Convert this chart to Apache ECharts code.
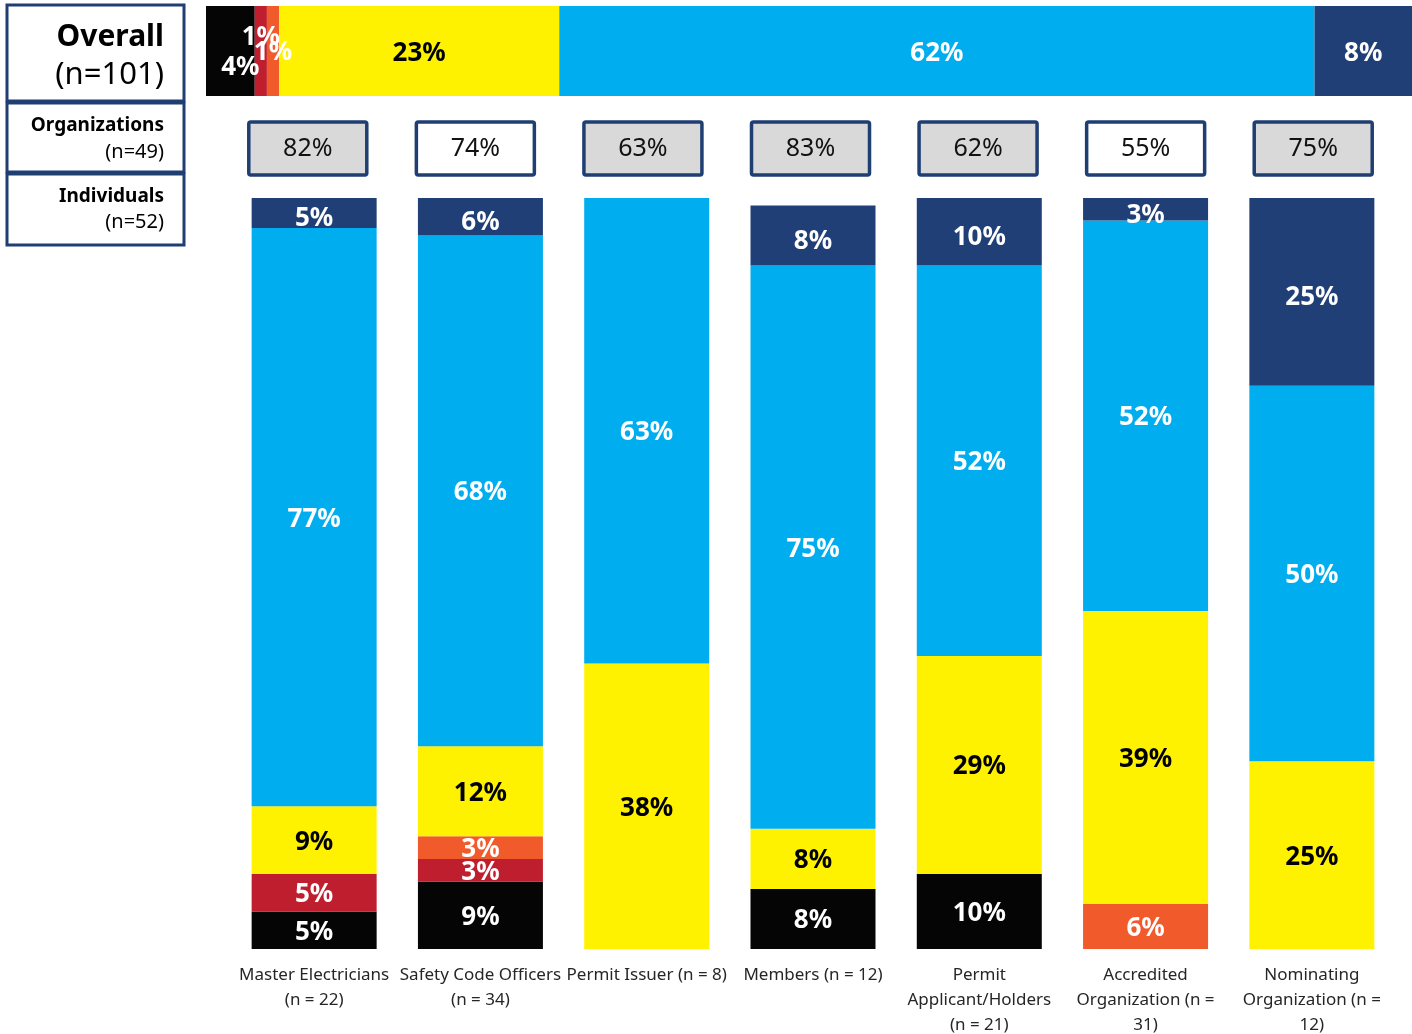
<!DOCTYPE html>
<html><head><meta charset="utf-8">
<script src="https://cdn.jsdelivr.net/npm/echarts@6/dist/echarts.min.js"></script>
<style>html,body{margin:0;padding:0;background:#fff}#c{width:1412px;height:1034px}</style>
</head><body><div id="c"></div>
<script>
// ---- data ----
const segmentNames = ['Level 1', 'Level 2', 'Level 3', 'Level 4', 'Level 5', 'Level 6'];
const categories = [
  'Master Electricians\n(n = 22)',
  'Safety Code Officers\n(n = 34)',
  'Permit Issuer (n = 8)',
  'Members (n = 12)',
  'Permit\nApplicant/Holders\n(n = 21)',
  'Accredited\nOrganization (n =\n31)',
  'Nominating\nOrganization (n =\n12)'
];
const blackVals     = [5, 9, 0, 8, 10, 0, 0];
const redVals       = [5, 3, 0, 0, 0, 0, 0];
const orangeVals    = [0, 3, 0, 0, 0, 6, 0];
const yellowVals    = [9, 12, 38, 8, 29, 39, 25];
const lightBlueVals = [77, 68, 63, 75, 52, 52, 50];
const darkBlueVals  = [5, 6, 0, 8, 10, 3, 25];
const overallVals   = [4, 1, 1, 23, 62, 8];
const boxVals       = [82, 74, 63, 83, 62, 55, 75];
const boxShaded     = [true, false, true, true, true, false, true];

// ---- styles ----
const FONT = '"Noto Sans", "Open Sans", sans-serif';
const colors = ['#050505', '#be1e2d', '#f15a2b', '#fff200', '#00adef', '#213f77'];
const labelColors = ['#fff', '#fff', '#fff', '#000', '#fff', '#fff'];
const overallOffsets = [[10, 17], [0, -13], [0, 2], [0, 3], [0, 3], [0, 3]];
const columnSets = [blackVals, redVals, orangeVals, yellowVals, lightBlueVals, darkBlueVals];

const chart = echarts.init(document.getElementById('c'), null, {renderer: 'canvas'});
const overallSum = overallVals.reduce((a, b) => a + b, 0);

const series = [];
overallVals.forEach((v, i) => {
  series.push({
    name: segmentNames[i], type: 'bar', xAxisIndex: 0, yAxisIndex: 0, stack: 'overall',
    barWidth: '100%', data: [v],
    itemStyle: {color: colors[i]},
    label: {show: true, position: 'inside', formatter: p => p.value + '%', color: labelColors[i],
      fontSize: 26, fontWeight: 'bold', fontFamily: FONT, offset: overallOffsets[i]},
    emphasis: {disabled: true}, silent: true
  });
});
columnSets.forEach((vals, i) => {
  series.push({
    name: segmentNames[i], type: 'bar', xAxisIndex: 2, yAxisIndex: 2, stack: 'cols',
    barWidth: 125, data: vals, clip: true,
    itemStyle: {color: colors[i]},
    label: {show: true, position: 'inside', formatter: p => p.value ? p.value + '%' : '',
      color: labelColors[i], fontSize: 26, fontWeight: 'bold', fontFamily: FONT,
      offset: i === 5 ? [0, 6] : [0, 2]},
    emphasis: {disabled: true}, silent: true
  });
});
series.push({
  type: 'custom', xAxisIndex: 1, yAxisIndex: 1,
  data: boxVals.map((v, i) => [i, 0.5, v, boxShaded[i] ? 1 : 0]),
  renderItem: (params, api) => {
    const c = api.coord([api.value(0), api.value(1)]);
    return {
      type: 'group',
      children: [
        {type: 'rect', shape: {x: c[0] - 59, y: c[1] - 26, width: 118, height: 53, r: 2},
          style: {fill: api.value(3) ? '#d9d9d9' : '#ffffff', stroke: '#1f3f73', lineWidth: 3.5}},
        {type: 'text', style: {text: api.value(2) + '%', x: c[0], y: c[1] + 1, textAlign: 'center',
          textVerticalAlign: 'middle', font: '25px ' + FONT, fill: '#111'}}
      ]
    };
  },
  silent: true
});

const txt = (text, y, font) => ({type: 'text', style: {text, x: 164, y, textAlign: 'right', textVerticalAlign: 'middle', font, fill: '#000'}});
const box = (y, h) => ({type: 'rect', shape: {x: 7, y, width: 177, height: h}, style: {fill: '#fff', stroke: '#1f3f73', lineWidth: 3}});

chart.setOption({
  animation: false,
  backgroundColor: '#fff',
  grid: [
    {left: 206, right: 0, top: 6, height: 90, outerBoundsMode: 'none'},
    {left: 224, right: 15, top: 110, height: 76, outerBoundsMode: 'none'},
    {left: 231, right: 17, top: 198, bottom: 85, outerBoundsMode: 'none'}
  ],
  xAxis: [
    {type: 'value', gridIndex: 0, min: 0, max: overallSum, show: false},
    {type: 'category', gridIndex: 1, data: categories, show: false},
    {type: 'category', gridIndex: 2, data: categories,
      axisLine: {show: false}, axisTick: {show: false},
      axisLabel: {interval: 0, fontSize: 17, color: '#262626', lineHeight: 25, margin: 14, fontFamily: FONT}}
  ],
  yAxis: [
    {type: 'category', gridIndex: 0, data: ['Overall'], show: false},
    {type: 'value', gridIndex: 1, min: 0, max: 1, show: false},
    {type: 'value', gridIndex: 2, min: 0, max: 100, show: false}
  ],
  series,
  graphic: [
    box(5, 96), box(103, 69), box(174, 71),
    txt('Overall', 37, 'bold 30px ' + FONT),
    txt('(n=101)', 75, '31px ' + FONT),
    txt('Organizations', 126, 'bold 19px ' + FONT),
    txt('(n=49)', 152, '20px ' + FONT),
    txt('Individuals', 197, 'bold 19px ' + FONT),
    txt('(n=52)', 222, '20px ' + FONT)
  ]
});
</script></body></html>
